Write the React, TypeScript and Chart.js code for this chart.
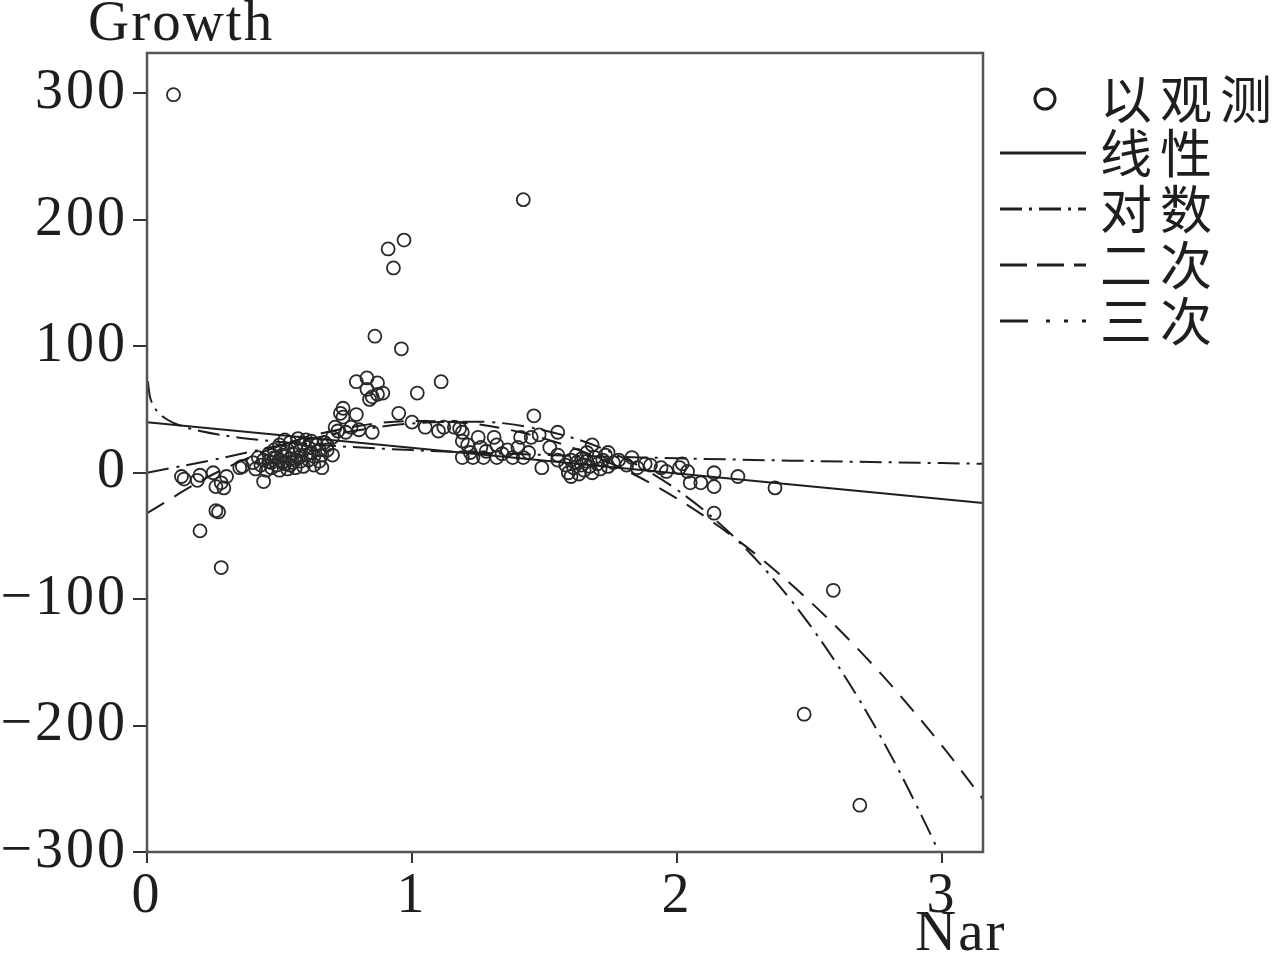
import React, { useEffect, useRef } from "react";
import { Chart, registerables } from "chart.js";

Chart.register(...registerables);

// ---------- data ----------
const obsX = [
  0.10, 0.13, 0.14, 0.19, 0.20, 0.20, 0.25, 0.26, 0.27, 0.26, 0.28, 0.28, 0.29, 0.30, 0.35, 0.36, 0.44,
  0.40, 0.41, 0.42, 0.43, 0.44, 0.45, 0.46, 0.47, 0.47, 0.48, 0.48, 0.49, 0.50, 0.50, 0.50, 0.51, 0.52, 0.52,
  0.53, 0.53, 0.54, 0.54, 0.55, 0.55, 0.56, 0.56, 0.57, 0.57, 0.58, 0.58, 0.59, 0.59, 0.60, 0.60, 0.61, 0.61,
  0.62, 0.62, 0.63, 0.63, 0.64, 0.65, 0.65, 0.66, 0.66, 0.67, 0.68, 0.68, 0.70, 0.70,
  0.46, 0.49, 0.51, 0.52, 0.54, 0.56, 0.58,
  0.71, 0.72, 0.73, 0.74, 0.74, 0.75, 0.77, 0.79, 0.79, 0.80, 0.83, 0.83, 0.84, 0.85, 0.85, 0.86, 0.87, 0.87,
  0.89, 0.91, 0.93, 0.95, 0.96, 0.97, 1.00, 1.02, 1.05, 1.10, 1.11, 1.12, 1.16, 1.18, 1.19, 1.19, 1.19, 1.21,
  1.23, 1.25, 1.26, 1.27, 1.31, 1.32, 1.32, 1.36, 1.38, 1.41, 1.42, 1.42, 1.45, 1.46, 1.48, 1.49, 1.52, 1.55,
  1.55, 1.55, 1.22, 1.28, 1.34, 1.40, 1.44,
  1.58, 1.59, 1.60, 1.60, 1.61, 1.62, 1.62, 1.63, 1.64, 1.64, 1.65, 1.66, 1.66, 1.67, 1.68, 1.68, 1.69, 1.70,
  1.71, 1.72, 1.73, 1.74, 1.74, 1.76, 1.78, 1.81, 1.83, 1.85, 1.88, 1.90, 1.94, 1.96, 2.01, 2.02, 2.04, 2.05,
  2.09, 2.14, 2.14, 2.14, 2.23, 2.37, 2.48, 2.59, 2.69,
];
const obsY = [
  299, -3, -5, -6, -2, -46, 0, -11, -31, -30, -75, -8, -12, -3, 4, 5, -7,
  8, 3, 12, 6, 10, 2, 15, 8, 4, 12, 18, 6, 10, 22, 2, 14, 26, 7,
  18, 3, 11, 24, 8, 15, 20, 4, 12, 27, 9, 18, 23, 5, 14, 26, 10, 20,
  16, 25, 6, 13, 22, 18, 9, 4, 14, 24, 18, 22, 14, 28,
  9, 12, 8, 13, 6, 10, 13,
  36, 33, 47, 51, 44, 32, 36, 46, 72, 34, 75, 66, 58, 32, 60, 108, 71, 62,
  63, 177, 162, 47, 98, 184, 40, 63, 36, 33, 72, 36, 36, 35, 32, 25, 12, 22,
  12, 28, 20, 12, 28, 22, 12, 18, 12, 28, 216, 12, 28, 45, 30, 4, 20, 32,
  14, 10, 16, 17, 15, 20, 16,
  6, 0, 10, -3, 4, 8, 14, -1, 6, 11, 2, 9, 16, 5, 22, 0, 12, 7,
  3, 10, 14, 16, 5, 8, 10, 6, 12, 4, 7, 6, 4, 1, 4, 7, 1, -8,
  -8, 0, -11, -32, -3, -12, -191, -93, -263,
];

const linX = [0, 3.155];
const linY = [40, -24];

const logX = [0.003, 0.01, 0.02, 0.04, 0.07, 0.1, 0.15, 0.2, 0.3, 0.4, 0.5, 0.7, 1.0, 1.3, 1.6, 2.0, 2.5, 3.0, 3.155];
const logY = [72.5, 61.2, 54.7, 48.2, 42.9, 39.5, 35.7, 33.0, 29.2, 26.5, 24.4, 21.3, 17.9, 15.4, 13.5, 11.4, 9.3, 7.6, 7.1];

const quadX = [0, 0.25, 0.5, 0.75, 1.0, 1.25, 1.5, 1.75, 2.0, 2.25, 2.5, 2.75, 3.0, 3.155];
const quadY = [-32, -1.2, 21.2, 35.3, 40.9, 38.2, 27, 7.5, -20.4, -56.7, -101.4, -154.4, -215.9, -258.2];

const cubX = [0, 0.25, 0.5, 0.75, 1.0, 1.25, 1.5, 1.75, 2.0, 2.25, 2.5, 2.75, 3.0, 3.155];
const cubY = [0, 10.2, 21.6, 32.0, 39.0, 40.3, 33.4, 16.4, -13.4, -58.0, -120.0, -201.7, -305.2, -381.4];

const xTicks = [0, 1, 2, 3];
const yTicks = [-300, -200, -100, 0, 100, 200, 300];

const legendLabels = ["以观测", "线性", "对数", "二次", "三次"];
const xTitle = "Nar";
const yTitle = "Growth";

// ---------- styles ----------
const INK = "#1e1e1e";
const SERIF = '"Liberation Serif", "Times New Roman", serif';
const CJK = '"Noto Sans CJK SC", sans-serif';
const DASH_LOG = [22, 7, 3, 7];
const DASH_QUAD = [20, 12];
const DASH_CUB = [22, 8, 3, 7];
const LEGEND_DASH_CUB = [28, 18, 4, 14, 4, 14];

const pts = (xs: number[], ys: number[]) => xs.map((x, i) => ({ x, y: ys[i] }));

const decor = {
  id: "decor",
  beforeDraw(chart: any) {
    const ctx = chart.ctx;
    ctx.save();
    ctx.fillStyle = "#ffffff";
    ctx.fillRect(0, 0, chart.width, chart.height);
    ctx.restore();
    (ctx as any).letterSpacing = "3px";
  },
  afterDraw(chart: any) {
    const ctx = chart.ctx;
    const a = chart.chartArea;
    (ctx as any).letterSpacing = "0px";
    ctx.save();
    // frame
    ctx.strokeStyle = "#555";
    ctx.lineWidth = 2.5;
    ctx.setLineDash([]);
    ctx.strokeRect(a.left, a.top, a.right - a.left, a.bottom - a.top);

    // axis titles
    ctx.fillStyle = INK;
    ctx.font = `57px ${SERIF}`;
    ctx.textAlign = "left";
    ctx.textBaseline = "alphabetic";
    (ctx as any).letterSpacing = "2px";
    ctx.fillText(yTitle, 88, 40);
    ctx.fillText(xTitle, 915, 950);
    (ctx as any).letterSpacing = "0px";

    // legend
    const rows = [99, 153, 209, 265, 321];
    const dashes = [null, [], DASH_LOG, [27, 10], LEGEND_DASH_CUB];
    ctx.strokeStyle = INK;
    rows.forEach((y, i) => {
      ctx.lineWidth = 3;
      if (i === 0) {
        ctx.setLineDash([]);
        ctx.beginPath();
        ctx.arc(1045, y, 10, 0, Math.PI * 2);
        ctx.stroke();
      } else {
        ctx.setLineDash(dashes[i] as number[]);
        ctx.beginPath();
        ctx.moveTo(1000, y);
        ctx.lineTo(1086, y);
        ctx.stroke();
      }
      ctx.setLineDash([]);
      ctx.fillStyle = INK;
      ctx.font = `52px ${CJK}`;
      ctx.textAlign = "left";
      ctx.textBaseline = "middle";
      (ctx as any).letterSpacing = "8px";
      ctx.fillText(legendLabels[i], 1100, y);
      (ctx as any).letterSpacing = "0px";
    });
    ctx.restore();
  },
};

export default function App() {
  const ref = useRef<HTMLCanvasElement | null>(null);

  useEffect(() => {
    document.body.style.margin = "0";
    const canvas = ref.current;
    if (!canvas) return;
    const lineDs = (label: string, xs: number[], ys: number[], dash: number[]) => ({
      type: "scatter" as const,
      label,
      data: pts(xs, ys),
      showLine: true,
      pointRadius: 0,
      borderColor: INK,
      borderWidth: 2,
      borderDash: dash,
      backgroundColor: "transparent",
      fill: false,
      cubicInterpolationMode: "monotone" as const,
    });

    const chart = new Chart(canvas, {
      type: "scatter",
      data: {
        datasets: [
          lineDs(legendLabels[1], linX, linY, []),
          lineDs(legendLabels[2], logX, logY, DASH_LOG),
          lineDs(legendLabels[3], quadX, quadY, DASH_QUAD),
          lineDs(legendLabels[4], cubX, cubY, DASH_CUB),
          {
            label: legendLabels[0],
            data: pts(obsX, obsY),
            pointStyle: "circle",
            pointRadius: 6.5,
            pointBorderWidth: 1.8,
            pointBorderColor: "#2a2a2a",
            pointBackgroundColor: "rgba(0,0,0,0)",
            borderColor: "#2a2a2a",
            backgroundColor: "rgba(0,0,0,0)",
            showLine: false,
          } as any,
        ],
      },
      options: {
        responsive: false,
        animation: false,
        layout: { padding: { top: 53, right: 292, bottom: 0, left: 0 } },
        plugins: { legend: { display: false }, tooltip: { enabled: false } },
        scales: {
          x: {
            type: "linear",
            min: 0,
            max: 3.155,
            afterBuildTicks: (s: any) => {
              s.ticks = xTicks.map((v) => ({ value: v }));
            },
            afterFit: (s: any) => {
              s.height = 101;
            },
            grid: { drawOnChartArea: false, drawTicks: true, tickLength: 11, color: "#333", lineWidth: 2 },
            border: { display: false },
            ticks: {
              font: { family: SERIF, size: 56 },
              color: INK,
              padding: 1,
              maxRotation: 0,
              autoSkip: false,
              callback: (v: any) => String(v),
            },
          },
          y: {
            type: "linear",
            min: -300,
            max: 332,
            afterBuildTicks: (s: any) => {
              s.ticks = yTicks.map((v) => ({ value: v }));
            },
            afterFit: (s: any) => {
              s.width = 147;
            },
            grid: { drawOnChartArea: false, drawTicks: true, tickLength: 14, color: "#333", lineWidth: 2 },
            border: { display: false },
            ticks: {
              font: { family: SERIF, size: 56 },
              color: INK,
              padding: 5,
              autoSkip: false,
              callback: (v: any) => (v < 0 ? "\u2212" + Math.abs(v) : String(v)),
            },
          },
        },
      },
      plugins: [decor],
    });
    return () => chart.destroy();
  }, []);

  return (
    <div style={{ width: 1275, height: 953, position: "relative", background: "#fff" }}>
      <canvas ref={ref} width={1275} height={953} style={{ display: "block", width: 1275, height: 953 }} />
    </div>
  );
}
